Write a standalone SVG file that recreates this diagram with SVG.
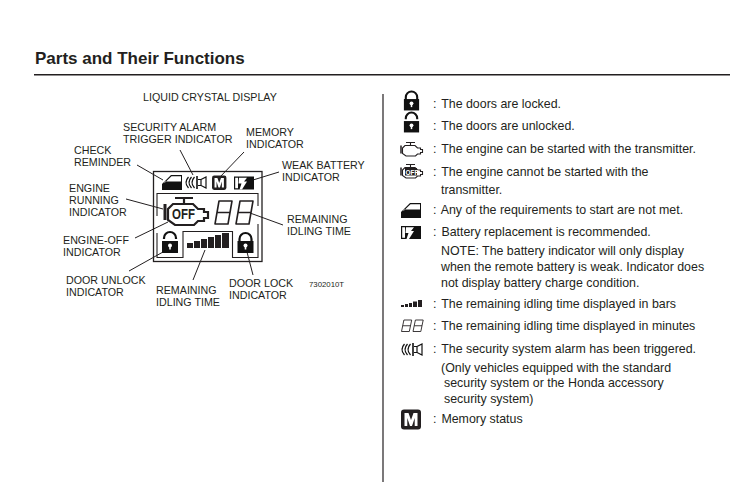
<svg xmlns="http://www.w3.org/2000/svg" width="733" height="482" viewBox="0 0 733 482">
<style>
text{font-family:"Liberation Sans",Arial,sans-serif;fill:#231f20}
.l{font-size:10.7px}
.b{font-size:12.400px}
.ln{stroke:#231f20;stroke-width:1;fill:none}
.k{fill:#231f20}
.f{fill:none;stroke:#231f20;stroke-width:1.100}
</style>
<defs>
<g id="lock"><path d="M-6 0V-3A6 6 0 0 1 6-3V0" fill="none" stroke="#111" stroke-width="2.200"/><rect x="-8" y="-1" width="16" height="12" fill="#111"/><circle cy="3.500" r="2" fill="#fff"/><rect x="-.8" y="3.500" width="1.600" height="4" fill="#fff"/></g>
<g id="unlock"><path d="M-6 -3V-4A6 6 0 0 1 6-4V-3" fill="none" stroke="#111" stroke-width="2.200"/><rect x="-8" y="-1" width="16" height="12" fill="#111"/><circle cy="3.500" r="2" fill="#fff"/><rect x="-.8" y="3.500" width="1.600" height="4" fill="#fff"/></g>
<g id="door"><path d="M0 15V9L9 0H20V15Z" fill="#111"/><path d="M2.500 8L9.500 1.200H19V6.500H2.500Z" fill="#fff"/></g>
<g id="batt"><path d="M4 0H20V13H4Z" fill="#111"/><path d="M4 .6H.6V3M.6 10V12.400H4M.6 3V10" fill="none" stroke="#111" stroke-width="1.200"/><path d="M3 1.200H13L10 5H13L8 13H5.500L7.500 7H4.500L5 1.200Z" fill="#fff"/></g>
<g id="m"><rect width="20" height="20" rx="3" fill="#231f20"/><path d="M3.500 16.500V3.500H7.500L10 10.500L12.500 3.500H16.500V16.500H13.700V8.500L11 16.500H9L6.300 8.500V16.500Z" fill="#fff"/></g>
<g id="spk"><path d="M3.500 1Q-1.500 6.500 3.500 12M6.500 1Q1.500 6.500 6.500 12M9.500 1Q4.500 6.500 9.500 12" fill="none" stroke="#111" stroke-width="1.300"/><path d="M12 0V13" stroke="#111" stroke-width="1.600"/><path d="M13 3.500H16V9.500H13M16 3.500L21 1V12L16 9.500V3.500" fill="none" stroke="#111" stroke-width="1.200"/></g>
<g id="eight"><path d="M4 0H17L13 23H0ZM2 11.500H15" fill="none" stroke="#231f20" stroke-width="1.600" stroke-linejoin="round"/></g>
<g id="eng" fill="none" stroke="#231f20"><path d="M12 1H30M21 1V7M10 7H30L35 12H41V15H45V21H41V24H35L31 28H12L5 23V12Z" stroke-width="2.200"/><path d="M2 7V23" stroke-width="3"/></g>
</defs>

<g id="header">
<text x="35" y="63.500" style="font-size:17px;font-weight:bold">Parts and Their Functions</text>
<rect x="34" y="74" width="696" height="1.500" fill="#231f20"/>
<path d="M383 94V482" stroke="#231f20" stroke-width="1.200"/>
<text x="143" y="101" class="l">LIQUID CRYSTAL DISPLAY</text>
</g>

<g id="connectors" class="ln">
<path d="M137 165L163 180"/>
<path d="M180 150L193 175"/>
<path d="M244 152L220 177"/>
<path d="M279 172L253 180"/>
<path d="M126 199L163 209"/>
<path d="M135 238L168 222"/>
<path d="M129 271L163 252"/>
<path d="M193 280L205 250"/>
<path d="M253 275L247 252"/>
<path d="M283 225L250 213"/>
</g>

<g id="lcd">
<rect x="153.500" y="171.500" width="108.500" height="90" fill="none" stroke="#231f20" stroke-width="1.300"/>
<path class="f" d="M157 216V193.500H258V206M258 224V257.500H232.500V231.500H183V257.500H157V233"/>
</g>
<g id="check-reminder"><use href="#door" x="162" y="175"/></g>
<g id="security-icon"><use href="#spk" x="185" y="176"/></g>
<g id="memory-icon"><use href="#m" transform="translate(212 175.500) scale(.72)"/></g>
<g id="battery-icon"><use href="#batt" x="234" y="176.500"/></g>
<g id="engine-icon">
<use href="#eng" x="163" y="197"/>
<text x="172" y="218.500" style="font-size:15px;font-weight:bold" textLength="23" lengthAdjust="spacingAndGlyphs">OFF</text>
</g>
<g id="digits"><use href="#eight" x="215" y="201"/><use href="#eight" x="236" y="201"/></g>
<g id="unlock-icon"><use href="#unlock" x="170" y="242"/></g>
<g id="bars-icon" class="k"><rect x="187" y="243" width="6" height="5"/><rect x="194" y="241" width="6" height="7"/><rect x="201" y="239" width="6" height="9"/><rect x="208" y="237" width="6" height="11"/><rect x="215" y="235" width="6" height="13"/><rect x="222" y="233" width="7" height="15"/></g>
<g id="lock-icon"><use href="#lock" x="245.500" y="242"/></g>

<g id="labels" class="l">
<text x="123" y="131">SECURITY ALARM</text><text x="123" y="143">TRIGGER INDICATOR</text>
<text x="246" y="136">MEMORY</text><text x="246" y="148">INDICATOR</text>
<text x="74" y="154">CHECK</text><text x="74" y="166">REMINDER</text>
<text x="282" y="169">WEAK BATTERY</text><text x="282" y="181">INDICATOR</text>
<text x="69" y="192">ENGINE</text><text x="69" y="204">RUNNING</text><text x="69" y="216">INDICATOR</text>
<text x="287" y="223">REMAINING</text><text x="287" y="235">IDLING TIME</text>
<text x="63" y="244">ENGINE-OFF</text><text x="63" y="256">INDICATOR</text>
<text x="66" y="284">DOOR UNLOCK</text><text x="66" y="296">INDICATOR</text>
<text x="229" y="287">DOOR LOCK</text><text x="229" y="299">INDICATOR</text>
<text x="156" y="294">REMAINING</text><text x="156" y="306">IDLING TIME</text>
<text x="309" y="287" style="font-size:7.800px">7302010T</text>
</g>

<g id="legend-icons">
<g transform="translate(411.500 100) scale(.95)"><use href="#lock"/></g>
<g transform="translate(411.500 122) scale(.95)"><use href="#unlock"/></g>
<g transform="translate(400 142) scale(.5)"><use href="#eng"/></g>
<g transform="translate(400 164) scale(.5)"><use href="#eng"/></g>
<rect x="405" y="168" width="12" height="7.500" fill="#231f20"/>
<text x="405.500" y="174.500" style="font-size:6.500px;font-weight:bold;fill:#fff">OFF</text>
<g transform="translate(401 203)"><use href="#door"/></g>
<use href="#batt" x="401" y="226"/>
<g class="k"><rect x="401" y="305" width="3" height="2"/><rect x="405" y="304" width="3" height="3"/><rect x="409" y="303" width="3" height="4"/><rect x="413" y="301.500" width="4" height="5.500"/><rect x="418" y="300" width="4" height="7"/></g>
<g transform="translate(401.500 320) scale(.6 .5)"><use href="#eight"/></g>
<g transform="translate(413 320) scale(.6 .5)"><use href="#eight"/></g>
<use href="#spk" x="401" y="343"/>
<use href="#m" x="401" y="409.500"/>
</g>

<g id="legend-text" class="b">
<text x="433" y="108">: <tspan dx="1.500">The doors are locked.</tspan></text>
<text x="433" y="130">: <tspan dx="1.500">The doors are unlocked.</tspan></text>
<text x="433" y="153">: <tspan dx="1.500">The engine can be started with the transmitter.</tspan></text>
<text x="433" y="176">: <tspan dx="1.500">The engine cannot be started with the</tspan></text>
<text x="441" y="194">transmitter.</text>
<text x="433" y="214">: <tspan dx="1.500">Any of the requirements to start are not met.</tspan></text>
<text x="433" y="236">: <tspan dx="1.500">Battery replacement is recommended.</tspan></text>
<text x="441" y="255">NOTE: The battery indicator will only display</text>
<text x="441" y="271">when the remote battery is weak. Indicator does</text>
<text x="441" y="287">not display battery charge condition.</text>
<text x="433" y="308">: <tspan dx="1.500">The remaining idling time displayed in bars</tspan></text>
<text x="433" y="330">: <tspan dx="1.500">The remaining idling time displayed in minutes</tspan></text>
<text x="433" y="353">: <tspan dx="1.500">The security system alarm has been triggered.</tspan></text>
<text x="441" y="372">(Only vehicles equipped with the standard</text>
<text x="444" y="387">security system or the Honda accessory</text>
<text x="444" y="403">security system)</text>
<text x="433" y="423">: <tspan dx="1.500">Memory status</tspan></text>
</g>
</svg>
